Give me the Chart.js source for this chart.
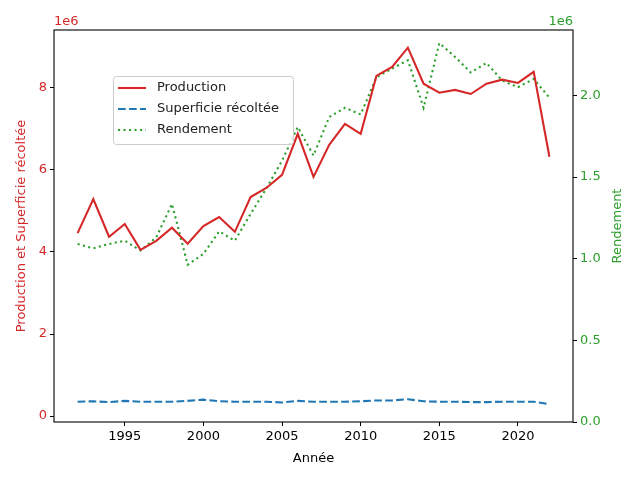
<!DOCTYPE html>
<html>
<head>
<meta charset="utf-8">
<script src="https://cdn.jsdelivr.net/npm/chart.js@4"></script>
<style>
  html, body { margin: 0; padding: 0; background: #fff; }
  #wrap { width: 640px; height: 480px; }
</style>
</head>
<body>
<div id="wrap"><canvas id="myChart" width="640" height="480"></canvas></div>
<script>
const years = [1992, 1993, 1994, 1995, 1996, 1997, 1998, 1999, 2000, 2001, 2002,
    2003, 2004, 2005, 2006, 2007, 2008, 2009, 2010, 2011, 2012, 2013, 2014, 2015,
    2016, 2017, 2018, 2019, 2020, 2021, 2022];
const production = [4.46, 5.29, 4.37, 4.68, 4.05, 4.27, 4.59, 4.20, 4.63, 4.85, 4.49,
    5.34, 5.56, 5.88, 6.88, 5.83, 6.61, 7.12, 6.88, 8.29, 8.51, 8.98, 8.10, 7.88,
    7.95, 7.85, 8.10, 8.20, 8.12, 8.39, 6.32].map(v => v * 1e6);
const superficie = [0.35, 0.36, 0.34, 0.37, 0.35, 0.35, 0.35, 0.37, 0.40, 0.36, 0.35,
    0.35, 0.35, 0.33, 0.37, 0.35, 0.35, 0.35, 0.36, 0.38, 0.38, 0.41, 0.36, 0.35,
    0.35, 0.34, 0.34, 0.35, 0.35, 0.35, 0.29].map(v => v * 1e6);
const rendement = [1.09, 1.063, 1.09, 1.11, 1.05, 1.13, 1.335, 0.963, 1.029, 1.167, 1.11,
    1.274, 1.43, 1.60, 1.806, 1.632, 1.867, 1.924, 1.883, 2.11, 2.164, 2.215, 1.924, 2.32,
    2.235, 2.14, 2.198, 2.09, 2.05, 2.10, 1.986].map(v => v * 1e6);
const leftTicks = [0, 2, 4, 6, 8];
const rightTicks = [0, 0.5, 1.0, 1.5, 2.0];
const xTicks = [1995, 2000, 2005, 2010, 2015, 2020];

const RED = "#d62728", BLUE = "#1f77b4", GREEN = "#2ca02c";
const FONT = "DejaVu Sans";
Chart.defaults.font.family = FONT;
Chart.defaults.font.size = 13;
Chart.defaults.color = "#000";

const lw = 2.08;

const frameAndLegend = {
    id: "frameAndLegend",
    afterDraw(chart) {
        const c = chart.ctx, a = chart.chartArea;
        c.save();
        c.strokeStyle = "#000";
        c.lineWidth = 1.1;
        c.strokeRect(a.left, a.top, a.right - a.left, a.bottom - a.top);

        // offset texts
        c.font = "13px " + FONT;
        c.textBaseline = "bottom";
        c.fillStyle = RED;
        c.textAlign = "left";
        c.fillText("1e6", a.left, a.top - 2);
        c.fillStyle = GREEN;
        c.textAlign = "right";
        c.fillText("1e6", a.right, a.top - 2);

        // right axis title, reading bottom to top like matplotlib
        c.save();
        c.translate(618, (a.top + a.bottom) / 2);
        c.rotate(-Math.PI / 2);
        c.fillStyle = GREEN;
        c.textAlign = "center";
        c.textBaseline = "middle";
        c.fillText("Rendement", 0, 0);
        c.restore();

        // legend
        const lx = 113, ly = 76, lwid = 180, lh = 68;
        c.fillStyle = "rgba(255,255,255,0.8)";
        c.strokeStyle = "#cccccc";
        c.lineWidth = 1;
        c.beginPath();
        c.roundRect(lx + 0.5, ly + 0.5, lwid, lh, 3);
        c.fill();
        c.stroke();
        chart.data.datasets.forEach((ds, i) => {
            const y = ly + 12 + i * 21;
            c.strokeStyle = ds.borderColor;
            c.lineWidth = lw;
            c.setLineDash(ds.borderDash || []);
            c.beginPath();
            c.moveTo(118, y);
            c.lineTo(146, y);
            c.stroke();
            c.setLineDash([]);
            c.fillStyle = "#222";
            c.textAlign = "left";
            c.textBaseline = "middle";
            c.fillText(ds.label, 157, y);
        });
        c.restore();
    },
};

const ctx = document.getElementById("myChart").getContext("2d");
const myChart = new Chart(ctx, {
    type: "line",
    data: {
        datasets: [
            {
                label: "Production",
                borderColor: RED,
                borderWidth: lw,
                data: years.map((y, i) => ({ x: y, y: production[i] })),
                yAxisID: "y",
            },
            {
                label: "Superficie récoltée",
                borderColor: BLUE,
                borderWidth: lw,
                borderDash: [7.7, 3.3],
                data: years.map((y, i) => ({ x: y, y: superficie[i] })),
                yAxisID: "y",
            },
            {
                label: "Rendement",
                borderColor: GREEN,
                borderWidth: lw,
                borderDash: [2.1, 3.4],
                data: years.map((y, i) => ({ x: y, y: rendement[i] })),
                yAxisID: "y1",
            },
        ],
    },
    options: {
        responsive: false,
        animation: false,
        layout: { padding: { top: 30, left: 0, right: 0, bottom: 0 } },
        elements: { point: { radius: 0 }, line: { tension: 0 } },
        plugins: { legend: { display: false }, tooltip: { enabled: false } },
        scales: {
            x: {
                type: "linear",
                min: 1990.5,
                max: 2023.5,
                afterBuildTicks: (s) => { s.ticks = xTicks.map(v => ({ value: v })); },
                afterFit: (s) => { s.height = 58; },
                ticks: { callback: (v) => String(v), padding: 3, maxRotation: 0 },
                grid: { drawOnChartArea: false, tickLength: 4, color: "#000" },
                border: { display: false },
                title: { display: true, text: "Année", padding: { top: 0, bottom: 14 } },
            },
            y: {
                position: "left",
                min: -0.145e6,
                max: 9.41e6,
                afterBuildTicks: (s) => { s.ticks = leftTicks.map(v => ({ value: v * 1e6 })); },
                afterFit: (s) => { s.width = 54; },
                ticks: { color: RED, padding: 3, callback: (v) => String(v / 1e6) },
                grid: { drawOnChartArea: false, tickLength: 4, color: "#000" },
                border: { display: false },
                title: {
                    display: true, text: "Production et Superficie récoltée", color: RED,
                    padding: { top: 14, bottom: 0 },
                },
            },
            y1: {
                position: "right",
                min: 0,
                max: 2.4e6,
                afterBuildTicks: (s) => { s.ticks = rightTicks.map(v => ({ value: v * 1e6 })); },
                afterFit: (s) => { s.width = 67; },
                ticks: { color: GREEN, padding: 3, callback: (v) => (v / 1e6).toFixed(1) },
                grid: { drawOnChartArea: false, tickLength: 4, color: "#000" },
                border: { display: false },
                title: { display: false },
            },
        },
    },
    plugins: [frameAndLegend],
});
</script>
</body>
</html>
